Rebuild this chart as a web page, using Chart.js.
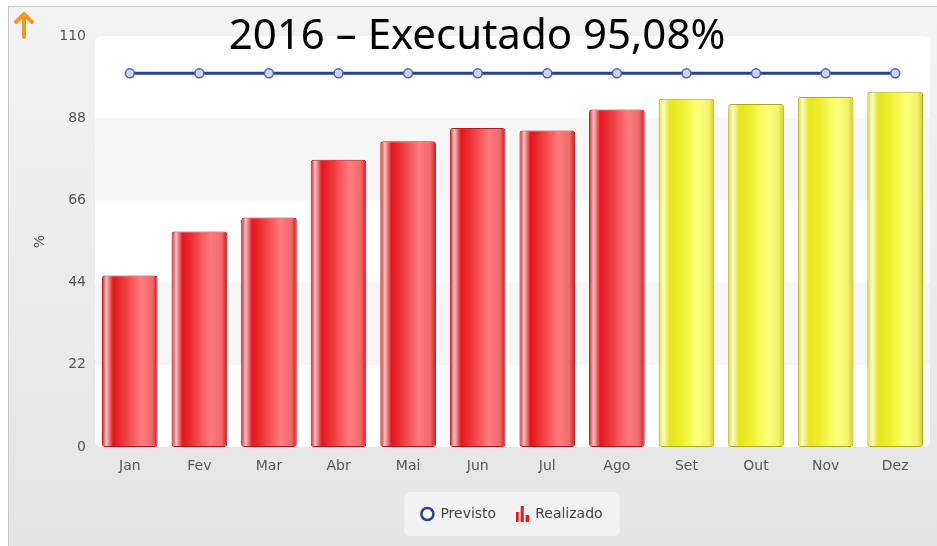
<!DOCTYPE html>
<html>
<head>
<meta charset="utf-8">
<script src="https://cdn.jsdelivr.net/npm/chart.js@4.4.1/dist/chart.umd.min.js"></script>
<style>
  html, body { margin: 0; padding: 0; background: #fff; }
  #wrap { position: relative; width: 937px; height: 546px; }
  #titulo {
    position: absolute; top: 12px; left: 477px; transform: translateX(-50%);
    font-family: "Noto Sans", sans-serif; font-size: 42px; line-height: 1;
    color: #000; white-space: nowrap;
  }
</style>
</head>
<body>
<div id="wrap">
  <canvas id="grafico" width="937" height="546"></canvas>
  <div id="titulo">2016 – Executado 95,08%</div>
</div>
<script>
// dados
var meses = ["Jan","Fev","Mar","Abr","Mai","Jun","Jul","Ago","Set","Out","Nov","Dez"];
var previsto = [100,100,100,100,100,100,100,100,100,100,100,100];
var realizado = [45.9,57.7,61.4,76.9,81.8,85.4,84.7,90.3,93.2,91.8,93.7,95.08];
var yTicks = [0,22,44,66,88,110];

// cores das barras (vermelho = realizado ate ago, amarelo = restante)
var paletaBarras = ['r','r','r','r','r','r','r','r','y','y','y','y'];
var cores = {
  r: { edge: '#b8141a', stops: ['#d31a1f','#f7c2c2','#e3161b','#ee3a3e','#ff7a7c','#f06a6c','#c8181c'] },
  y: { edge: '#a9a820', stops: ['#d8d81c','#fbfbc8','#e6e61a','#eeee30','#ffff7a','#f2f26a','#cfcf1e'] }
};

function preenchimento(ctx) {
  var chart = ctx.chart;
  var pal = cores[paletaBarras[ctx.dataIndex]];
  var xs = chart.scales.x;
  if (!chart.chartArea || !xs) return pal.stops[3];
  var cx = xs.getPixelForValue(ctx.dataIndex);
  var half = xs.width / meses.length * 0.8 / 2;
  var g = chart.ctx.createLinearGradient(cx - half, 0, cx + half, 0);
  var pos = [0, 0.08, 0.2, 0.4, 0.7, 0.9, 1];
  pal.stops.forEach(function (c, i) { g.addColorStop(pos[i], c); });
  return g;
}

// icone da legenda "Realizado"
var icone = document.createElement('canvas');
icone.width = 13; icone.height = 16;
(function () {
  var c = icone.getContext('2d');
  c.fillStyle = '#e8161b';
  c.fillRect(0, 6, 3, 10);
  c.fillRect(5, 0, 3, 16);
  c.fillRect(10, 9, 3, 7);
})();

var fundo = {
  id: 'fundo',
  afterLayout: function (chart) {
    // legenda um pouco deslocada para a direita
    chart.legend.left += 47;
    chart.legend.right += 47;
  },
  beforeDraw: function (chart) {
    var c = chart.ctx, a = chart.chartArea;
    c.save();
    c.fillStyle = '#fff';
    c.fillRect(0, 0, chart.width, chart.height);
    var g = c.createLinearGradient(0, 6, 0, chart.height);
    g.addColorStop(0, '#f3f3f3');
    g.addColorStop(1, '#e4e4e4');
    c.fillStyle = g;
    c.fillRect(8, 6, chart.width - 8, chart.height - 6);
    c.strokeStyle = '#c4c4c4';
    c.lineWidth = 1;
    c.beginPath();
    c.moveTo(8.5, chart.height); c.lineTo(8.5, 6.5); c.lineTo(chart.width, 6.5);
    c.stroke();

    // seta laranja
    c.strokeStyle = '#f39a1e';
    c.lineWidth = 4;
    c.lineCap = 'round';
    c.beginPath();
    c.moveTo(16, 22); c.lineTo(24, 14); c.lineTo(32, 22);
    c.moveTo(24, 15); c.lineTo(24, 37);
    c.stroke();

    // area do grafico com faixas
    c.fillStyle = '#fff';
    c.beginPath();
    c.roundRect(a.left, a.top, a.right - a.left, a.bottom - a.top, 6);
    c.fill();
    var y = chart.scales.y;
    c.fillStyle = '#f6f6f6';
    for (var i = 1; i < yTicks.length - 1; i += 2) {
      var t = y.getPixelForValue(yTicks[i + 1]), b = y.getPixelForValue(yTicks[i]);
      c.fillRect(a.left, t, a.right - a.left, b - t);
    }

    // caixa da legenda
    var hb = chart.legend.legendHitBoxes;
    if (hb && hb.length) {
      var x0 = Math.min.apply(null, hb.map(function (h) { return h.left; }));
      var x1 = Math.max.apply(null, hb.map(function (h) { return h.left + h.width; }));
      var y0 = Math.min.apply(null, hb.map(function (h) { return h.top; }));
      var y1 = Math.max.apply(null, hb.map(function (h) { return h.top + h.height; }));
      c.fillStyle = '#f2f2f2';
      c.beginPath();
      c.roundRect(x0 - 17, y0 - 15, x1 - x0 + 34, y1 - y0 + 30, 5);
      c.fill();
    }
    c.restore();
  }
};

var fonte = { family: 'DejaVu Sans', size: 14 };

var ctx = document.getElementById('grafico').getContext('2d');
var grafico = new Chart(ctx, {
  type: 'bar',
  data: {
    labels: meses,
    datasets: [{
      type: 'line',
      label: 'Previsto',
      data: previsto,
      order: 0,
      borderColor: '#2a3f94',
      borderWidth: 3,
      pointRadius: 4.5,
      pointBackgroundColor: '#cdd4ec',
      pointBorderColor: '#4a60b0',
      pointBorderWidth: 1.5
    }, {
      type: 'bar',
      label: 'Realizado',
      data: realizado,
      order: 1,
      backgroundColor: preenchimento,
      borderColor: function (c) { return cores[paletaBarras[c.dataIndex]].edge; },
      borderWidth: 1,
      borderRadius: 3,
      borderSkipped: false,
      barPercentage: 1,
      categoryPercentage: 0.8
    }]
  },
  options: {
    responsive: false,
    animation: false,
    layout: { padding: { left: 0, top: 36, right: 7, bottom: 15 } },
    plugins: {
      tooltip: { enabled: false },
      legend: {
        position: 'bottom',
        labels: {
          font: fonte,
          color: '#444',
          padding: 20,
          boxWidth: 12,
          boxHeight: 8.5,
          usePointStyle: true,
          generateLabels: function () {
            return [
              { text: 'Previsto', pointStyle: 'circle', fillStyle: '#fff', strokeStyle: '#2a3f94', lineWidth: 2.5, fontColor: '#444', datasetIndex: 0 },
              { text: 'Realizado', pointStyle: icone, fillStyle: '#e8161b', strokeStyle: '#e8161b', lineWidth: 0, fontColor: '#444', datasetIndex: 1 }
            ];
          }
        }
      }
    },
    scales: {
      x: {
        grid: { display: false, drawTicks: false },
        border: { display: false },
        ticks: { font: fonte, color: '#555', padding: 11 },
        afterFit: function (s) { s.height = 40; }
      },
      y: {
        min: 0, max: 110,
        afterBuildTicks: function (s) { s.ticks = yTicks.map(function (v) { return { value: v }; }); },
        grid: { display: false, drawTicks: false },
        border: { display: false },
        ticks: { font: fonte, color: '#555', padding: 9 },
        title: { display: true, text: '%', font: fonte, color: '#555', padding: { top: 32, bottom: 0 } },
        afterFit: function (s) { s.width = 95; }
      }
    }
  },
  plugins: [fundo]
});
</script>
</body>
</html>
